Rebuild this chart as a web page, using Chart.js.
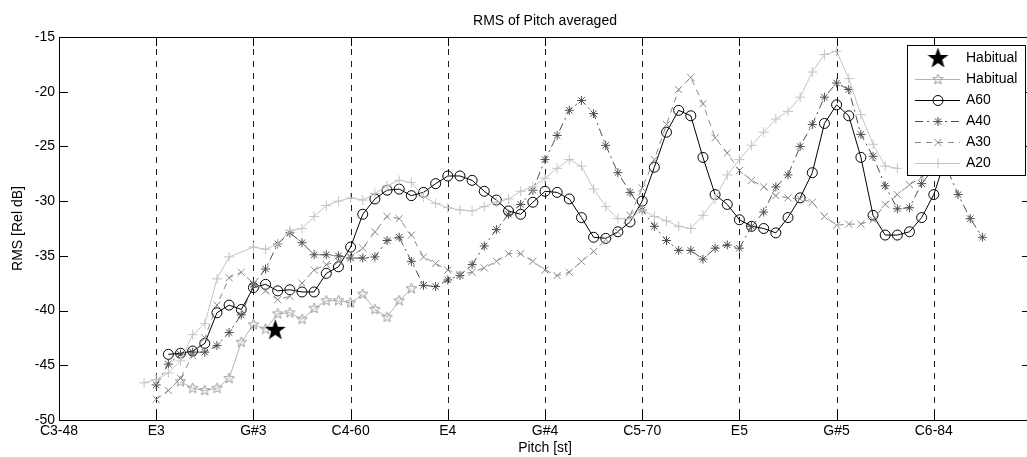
<!DOCTYPE html>
<html>
<head>
<meta charset="utf-8">
<title>RMS of Pitch averaged</title>
<script src="https://cdn.jsdelivr.net/npm/chart.js@4.4.1/dist/chart.umd.min.js"></script>
<style>
  html, body { margin: 0; padding: 0; background: #fff; overflow: hidden; }
  #wrap { width: 1027px; height: 457px; overflow: hidden; }
  canvas { display: block; }
</style>
</head>
<body>
<div id="wrap"><canvas id="chartRMS" width="1032" height="457"></canvas></div>
<script>
const noteTicks = [48, 52, 56, 60, 64, 68, 72, 76, 80, 84];
const noteLabels = ["C3-48", "E3", "G#3", "C4-60", "E4", "G#4", "C5-70", "E5", "G#5", "C6-84"];
const rmsTicks = [-50, -45, -40, -35, -30, -25, -20, -15];

const habitualMarkPitch = [56.9];
const habitualMarkRms = [-41.8];

const habitualPitch = [53, 53.5, 54, 54.5, 55, 55.5, 56, 56.5, 57, 57.5, 58, 58.5, 59, 59.5, 60, 60.5, 61, 61.5, 62, 62.5];
const habitualRms = [-46.5, -47.1, -47.3, -47.1, -46.2, -42.9, -41.3, -41.7, -40.3, -40.2, -40.8, -39.8, -39.1, -39.1, -39.3, -38.5, -39.9, -40.6, -39.1, -38.0];

const a60Pitch = [52.5, 53, 53.5, 54, 54.5, 55, 55.5, 56, 56.5, 57, 57.5, 58, 58.5, 59, 59.5, 60, 60.5, 61, 61.5, 62, 62.5, 63, 63.5, 64, 64.5, 65, 65.5, 66, 66.5, 67, 67.5, 68, 68.5, 69, 69.5, 70, 70.5, 71, 71.5, 72, 72.5, 73, 73.5, 74, 74.5, 75, 75.5, 76, 76.5, 77, 77.5, 78, 78.5, 79, 79.5, 80, 80.5, 81, 81.5, 82, 82.5, 83, 83.5, 84, 84.5];
const a60Rms = [-44.0, -43.9, -43.7, -43.0, -40.2, -39.5, -39.9, -37.9, -37.6, -38.2, -38.1, -38.3, -38.3, -36.6, -36.0, -34.2, -31.2, -29.8, -29.0, -28.9, -29.5, -29.2, -28.4, -27.7, -27.7, -28.1, -29.1, -29.9, -30.9, -31.2, -30.1, -29.1, -29.2, -29.8, -31.5, -33.3, -33.4, -32.8, -31.9, -30.0, -26.9, -23.7, -21.7, -22.2, -26.0, -29.4, -30.3, -31.7, -32.3, -32.5, -32.9, -31.5, -29.7, -27.4, -22.9, -21.2, -22.2, -26.0, -31.3, -33.1, -33.1, -32.8, -31.5, -29.4, -26.0];

const a40Pitch = [52, 52.5, 53, 53.5, 54, 54.5, 55, 55.5, 56, 56.5, 57, 57.5, 58, 58.5, 59, 59.5, 60, 60.5, 61, 61.5, 62, 62.5, 63, 63.5, 64, 64.5, 65, 65.5, 66, 66.5, 67, 67.5, 68, 68.5, 69, 69.5, 70, 70.5, 71, 71.5, 72, 72.5, 73, 73.5, 74, 74.5, 75, 75.5, 76, 76.5, 77, 77.5, 78, 78.5, 79, 79.5, 80, 80.5, 81, 81.5, 82, 82.5, 83, 83.5, 84, 84.5, 85, 85.5, 86];
const a40Rms = [-46.8, -44.9, -44.0, -43.8, -43.8, -43.2, -42.0, -40.4, -37.6, -36.2, -33.9, -32.9, -33.8, -34.9, -34.9, -35.0, -35.2, -35.2, -35.1, -33.6, -33.3, -35.5, -37.7, -37.8, -37.2, -36.8, -35.8, -34.1, -32.6, -31.2, -30.3, -29.0, -26.2, -24.0, -21.7, -20.8, -22.0, -24.9, -27.4, -29.2, -30.8, -32.3, -33.6, -34.5, -34.5, -35.3, -34.3, -34.0, -34.3, -32.3, -31.0, -28.7, -27.6, -25.0, -23.0, -20.5, -19.2, -19.8, -23.9, -25.9, -28.6, -30.7, -30.6, -28.4, -27.0, -26.8, -29.4, -31.6, -33.3];

const a30Pitch = [52, 52.5, 53, 53.5, 54, 54.5, 55, 55.5, 56, 56.5, 57, 57.5, 58, 58.5, 59, 59.5, 60, 60.5, 61, 61.5, 62, 62.5, 63, 63.5, 64, 64.5, 65, 65.5, 66, 66.5, 67, 67.5, 68, 68.5, 69, 69.5, 70, 70.5, 71, 71.5, 72, 72.5, 73, 73.5, 74, 74.5, 75, 75.5, 76, 76.5, 77, 77.5, 78, 78.5, 79, 79.5, 80, 80.5, 81, 81.5, 82, 82.5, 83, 83.5, 84];
const a30Rms = [-48.1, -47.3, -46.2, -44.1, -42.5, -39.5, -37.0, -36.5, -37.5, -38.2, -39.0, -38.7, -37.5, -36.3, -35.8, -35.5, -35.1, -34.3, -32.8, -31.4, -31.6, -33.1, -35.1, -35.7, -36.3, -36.7, -36.5, -36.1, -35.5, -34.8, -34.8, -35.5, -36.3, -36.8, -36.5, -35.5, -34.6, -33.5, -32.8, -31.3, -28.8, -26.2, -23.0, -19.8, -18.7, -21.1, -24.2, -25.6, -27.2, -28.1, -28.7, -29.5, -29.7, -29.8, -30.1, -31.4, -32.2, -32.1, -32.1, -31.7, -30.3, -29.4, -28.5, -27.8, -27.2];

const a20Pitch = [51.5, 52, 52.5, 53, 53.5, 54, 54.5, 55, 56, 56.5, 57, 57.5, 58, 58.5, 59, 59.5, 60, 60.5, 61, 61.5, 62, 62.5, 63, 63.5, 64, 64.5, 65, 65.5, 66, 66.5, 67, 67.5, 68, 68.5, 69, 69.5, 70, 70.5, 71, 71.5, 72, 72.5, 73, 73.5, 74, 74.5, 75, 75.5, 76, 76.5, 77, 77.5, 78, 78.5, 79, 79.5, 80, 80.5, 81, 81.5, 82, 82.5];
const a20Rms = [-46.6, -46.3, -45.7, -44.6, -42.2, -41.2, -37.1, -35.1, -34.2, -34.4, -33.9, -32.7, -32.5, -31.4, -30.4, -30.0, -29.7, -29.9, -29.3, -28.6, -28.1, -28.3, -29.6, -30.2, -30.6, -30.8, -30.9, -30.5, -30.1, -29.8, -29.1, -28.7, -27.9, -27.0, -26.2, -26.8, -28.9, -30.5, -31.6, -31.6, -30.8, -31.4, -31.8, -32.3, -32.5, -31.3, -29.8, -27.6, -26.2, -24.9, -23.7, -22.5, -21.8, -20.5, -18.2, -16.6, -16.3, -18.8, -22.1, -24.8, -26.8, -27.0];

const FONT = "'Liberation Sans', Arial, Helvetica, sans-serif";

function makeStar(size, outer, inner, fill, stroke) {
    const c = document.createElement("canvas");
    c.width = size;
    c.height = size;
    const g = c.getContext("2d");
    g.beginPath();
    for (let i = 0; i < 10; i++) {
        const r = i % 2 === 0 ? outer : inner;
        const a = -Math.PI / 2 + i * Math.PI / 5;
        g.lineTo(size / 2 + r * Math.cos(a), size / 2 + r * Math.sin(a));
    }
    g.closePath();
    if (fill) {
        g.fillStyle = fill;
        g.fill();
    }
    if (stroke) {
        g.strokeStyle = stroke;
        g.lineWidth = 1;
        g.stroke();
    }
    return c;
}

const bigStar = makeStar(25, 11, 4.4, "#000", null);
const smallStar = makeStar(13, 5.5, 2.3, null, "#999");

function toPoints(pitch, rms) {
    return pitch.map((p, i) => ({ x: p, y: rms[i] }));
}

const seriesStyles = [
    { label: "Habitual", pitch: habitualMarkPitch, rms: habitualMarkRms, color: "#000", marker: bigStar, radius: 11, dash: [], showLine: false, order: 0 },
    { label: "Habitual", pitch: habitualPitch, rms: habitualRms, color: "#b4b4b4", markerColor: "#999", marker: smallStar, radius: 5, dash: [], showLine: true, order: 5 },
    { label: "A60", pitch: a60Pitch, rms: a60Rms, color: "#000", marker: "circle", radius: 5, dash: [], showLine: true, order: 4 },
    { label: "A40", pitch: a40Pitch, rms: a40Rms, color: "#4d4d4d", marker: "star", radius: 4.5, dash: [8, 4, 2, 4], showLine: true, order: 3 },
    { label: "A30", pitch: a30Pitch, rms: a30Rms, color: "#888", marker: "crossRot", radius: 5, dash: [6, 5], showLine: true, order: 2 },
    { label: "A20", pitch: a20Pitch, rms: a20Rms, color: "#c4c4c4", marker: "cross", radius: 5, dash: [], showLine: true, order: 1 },
];

const datasets = seriesStyles.map((s) => ({
    label: s.label,
    data: toPoints(s.pitch, s.rms),
    showLine: s.showLine,
    borderColor: s.color,
    borderWidth: 1,
    borderDash: s.dash,
    backgroundColor: "rgba(0,0,0,0)",
    pointStyle: s.marker,
    pointRadius: s.radius,
    pointBorderColor: s.markerColor || s.color,
    pointBackgroundColor: "rgba(0,0,0,0)",
    pointBorderWidth: 1,
    tension: 0,
    order: s.order,
}));

const framePlugin = {
    id: "matlabFrame",
    beforeDatasetsDraw(chart) {
        const { ctx, chartArea, scales } = chart;
        ctx.save();
        ctx.strokeStyle = "#1a1a1a";
        ctx.lineWidth = 1;
        ctx.setLineDash([6, 6]);
        noteTicks.forEach((t) => {
            if (t === 48) return;
            const x = Math.round(scales.x.getPixelForValue(t)) + 0.5;
            ctx.beginPath();
            ctx.moveTo(x, chartArea.top);
            ctx.lineTo(x, chartArea.bottom);
            ctx.stroke();
        });
        ctx.restore();
    },
    afterDraw(chart) {
        const { ctx, chartArea, scales } = chart;
        const { left, right, top, bottom } = chartArea;
        ctx.save();
        ctx.strokeStyle = "#000";
        ctx.lineWidth = 1;
        ctx.setLineDash([]);
        ctx.strokeRect(left + 0.5, top + 0.5, right - left, bottom - top);

        // ticks point inward, MATLAB style
        const tl = 9;
        ctx.beginPath();
        noteTicks.forEach((t) => {
            const x = Math.round(scales.x.getPixelForValue(t)) + 0.5;
            ctx.moveTo(x, bottom);
            ctx.lineTo(x, bottom - tl);
            ctx.moveTo(x, top);
            ctx.lineTo(x, top + tl);
        });
        rmsTicks.forEach((t) => {
            const y = Math.round(scales.y.getPixelForValue(t)) + 0.5;
            ctx.moveTo(left, y);
            ctx.lineTo(left + tl, y);
            ctx.moveTo(right, y);
            ctx.lineTo(right - tl, y);
        });
        ctx.stroke();

        ctx.fillStyle = "#000";
        ctx.font = "14px " + FONT;
        ctx.textAlign = "center";
        ctx.textBaseline = "middle";
        ctx.fillText("RMS of Pitch averaged", (left + right) / 2, 21);

        drawLegend(ctx, right - 124, top + 8);
        ctx.restore();
    },
};

function drawLegend(ctx, x0, y0) {
    const w = 118;
    const h = 130;
    ctx.save();
    ctx.fillStyle = "#fff";
    ctx.fillRect(x0, y0, w, h);
    ctx.strokeStyle = "#000";
    ctx.lineWidth = 1;
    ctx.strokeRect(x0 + 0.5, y0 + 0.5, w, h);

    seriesStyles.forEach((s, i) => {
        const y = Math.round(y0 + 12.5 + i * 21) + 0.5;
        const mx = x0 + 31;
        if (s.showLine) {
            ctx.strokeStyle = s.color;
            ctx.setLineDash(s.dash);
            ctx.beginPath();
            ctx.moveTo(x0 + 8, y);
            ctx.lineTo(x0 + 53, y);
            ctx.stroke();
            ctx.setLineDash([]);
        }
        ctx.strokeStyle = s.markerColor || s.color;
        ctx.fillStyle = "rgba(0,0,0,0)";
        Chart.helpers.drawPoint(ctx, { pointStyle: s.marker, radius: s.radius, rotation: 0, borderWidth: 1 }, mx, y);
        ctx.fillStyle = "#000";
        ctx.font = "14px " + FONT;
        ctx.textAlign = "left";
        ctx.textBaseline = "middle";
        ctx.fillText(s.label, x0 + 59, y);
    });
    ctx.restore();
}

const chartOptions = {
    responsive: false,
    animation: false,
    devicePixelRatio: 1,
    layout: {
        autoPadding: false,
        padding: { top: 37, right: 1, bottom: 0, left: 0 },
    },
    plugins: {
        legend: { display: false },
        title: { display: false },
        tooltip: { enabled: false },
    },
    scales: {
        x: {
            type: "linear",
            min: 48,
            max: 88,
            afterBuildTicks: (scale) => {
                scale.ticks = noteTicks.map((v) => ({ value: v }));
            },
            afterFit: (scale) => {
                scale.height = 37;
            },
            ticks: {
                autoSkip: false,
                maxRotation: 0,
                padding: 3,
                color: "#000",
                font: { family: FONT, size: 14 },
                callback: (value) => {
                    const idx = noteTicks.indexOf(value);
                    return idx >= 0 ? noteLabels[idx] : "";
                },
            },
            grid: { display: false, drawTicks: false },
            border: { display: false },
            title: {
                display: true,
                text: "Pitch [st]",
                color: "#000",
                font: { family: FONT, size: 14 },
                padding: { top: 0, bottom: 0 },
            },
        },
        y: {
            min: -50,
            max: -15,
            afterBuildTicks: (scale) => {
                scale.ticks = rmsTicks.map((v) => ({ value: v }));
            },
            afterFit: (scale) => {
                scale.width = 59;
            },
            ticks: {
                padding: 4,
                color: "#000",
                font: { family: FONT, size: 14 },
            },
            grid: { display: false, drawTicks: false },
            border: { display: false },
            title: {
                display: true,
                text: "RMS [Rel dB]",
                color: "#000",
                font: { family: FONT, size: 14 },
                padding: { top: 10, bottom: 0 },
            },
        },
    },
};

const chartElementRMS = document.getElementById("chartRMS");
chartElementRMS.chart = new Chart(chartElementRMS, {
    type: "line",
    data: { datasets: datasets },
    options: chartOptions,
    plugins: [framePlugin],
});
</script>
</body>
</html>
